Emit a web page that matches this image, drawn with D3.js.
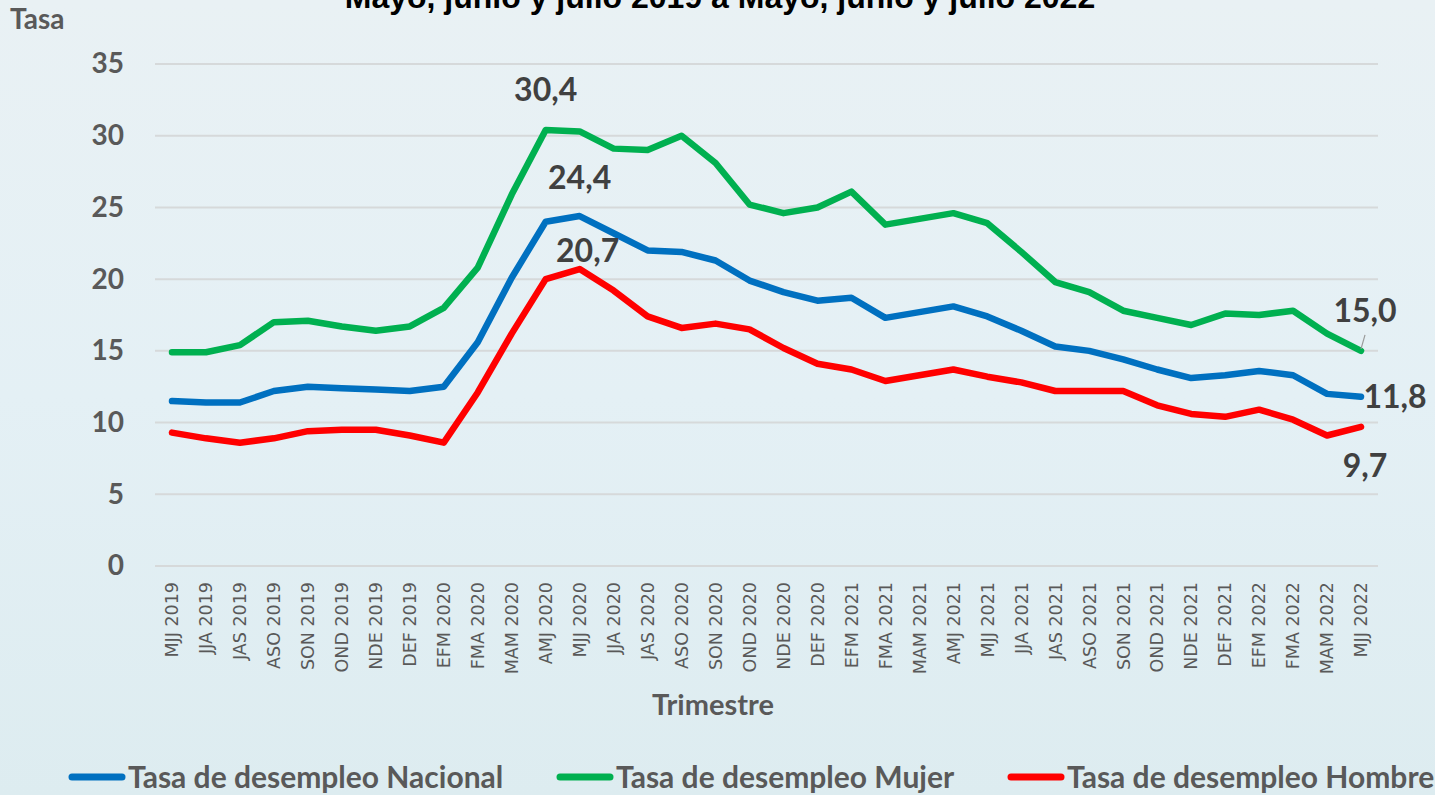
<!DOCTYPE html>
<meta charset="utf-8">
<script src="https://d3js.org/d3.v7.min.js"></script>
<style>
  body { margin: 0; }
  text { font-family: Lato, "Open Sans", sans-serif; }
  .xlab { font-family: "DejaVu Sans", sans-serif; font-size: 17.5px; }
</style>
<body>
<div id="my_visual"></div>
<script>

// Quarters (rolling trimesters)
var trimestres = ["MJJ 2019","JJA 2019","JAS 2019","ASO 2019","SON 2019","OND 2019","NDE 2019","DEF 2019",
  "EFM 2020","FMA 2020","MAM 2020","AMJ 2020","MJJ 2020","JJA 2020","JAS 2020","ASO 2020","SON 2020","OND 2020","NDE 2020","DEF 2020",
  "EFM 2021","FMA 2021","MAM 2021","AMJ 2021","MJJ 2021","JJA 2021","JAS 2021","ASO 2021","SON 2021","OND 2021","NDE 2021","DEF 2021",
  "EFM 2022","FMA 2022","MAM 2022","MJJ 2022"];

var nacional = [11.5,11.4,11.4,12.2,12.5,12.4,12.3,12.2,12.5,15.6,20.1,24.0,24.4,23.2,22.0,21.9,21.3,19.9,19.1,18.5,
  18.7,17.3,17.7,18.1,17.4,16.4,15.3,15.0,14.4,13.7,13.1,13.3,13.6,13.3,12.0,11.8];
var mujer = [14.9,14.9,15.4,17.0,17.1,16.7,16.4,16.7,18.0,20.8,25.9,30.4,30.3,29.1,29.0,30.0,28.1,25.2,24.6,25.0,
  26.1,23.8,24.2,24.6,23.9,21.9,19.8,19.1,17.8,17.3,16.8,17.6,17.5,17.8,16.2,15.0];
var hombre = [9.3,8.9,8.6,8.9,9.4,9.5,9.5,9.1,8.6,12.1,16.2,20.0,20.7,19.2,17.4,16.6,16.9,16.5,15.2,14.1,
  13.7,12.9,13.3,13.7,13.2,12.8,12.2,12.2,12.2,11.2,10.6,10.4,10.9,10.2,9.1,9.7];

var yTicks = [0,5,10,15,20,25,30,35];
var series = [
  {name: "Tasa de desempleo Nacional", values: nacional, color: "#0070C0"},
  {name: "Tasa de desempleo Mujer", values: mujer, color: "#00B050"},
  {name: "Tasa de desempleo Hombre", values: hombre, color: "#FF0000"}
];

var W = 1435, H = 795;
var margin = {top: 64, right: 57, bottom: 229, left: 155},
    width = W - margin.left - margin.right,
    height = H - margin.top - margin.bottom;

var root = d3.select("#my_visual").append("svg")
    .attr("width", W)
    .attr("height", H);

// background gradient
var grad = root.append("defs").append("linearGradient")
    .attr("id", "bg").attr("x1", 0).attr("y1", 0).attr("x2", 0).attr("y2", 1);
grad.append("stop").attr("offset", "0%").attr("stop-color", "#e9f1f4");
grad.append("stop").attr("offset", "50%").attr("stop-color", "#e4f0f5");
grad.append("stop").attr("offset", "100%").attr("stop-color", "#ddecf0");
root.append("rect").attr("width", W).attr("height", H).attr("fill", "url(#bg)");

// title (cut at top like the original)
root.append("text")
    .attr("x", 720).attr("y", 8)
    .attr("text-anchor", "middle")
    .style("font-family", "'Liberation Sans', Arial, sans-serif")
    .style("font-weight", "bold")
    .style("font-size", "32px")
    .attr("fill", "#000")
    .text("Mayo, junio y julio 2019 a Mayo, junio y julio 2022");

root.append("text")
    .attr("x", 10).attr("y", 29)
    .style("font-weight", "bold").style("font-size", "28px")
    .attr("fill", "#595959")
    .text("Tasa");

var svg = root.append("g")
    .attr("transform", "translate(" + margin.left + "," + margin.top + ")");

var x = d3.scaleBand()
    .domain(trimestres)
    .range([0, width]);

var y = d3.scaleLinear()
    .domain([0, 35])
    .range([height, 0]);

// gridlines
svg.append("g")
  .selectAll("line")
  .data(yTicks)
  .enter()
  .append("line")
    .attr("x1", 0).attr("x2", width)
    .attr("y1", function(d) { return y(d); })
    .attr("y2", function(d) { return y(d); })
    .attr("stroke", "#d6d9da")
    .attr("stroke-width", 2);

// Y axis
var yAxis = svg.append("g")
    .call(d3.axisLeft(y).tickValues(yTicks).tickSize(0).tickPadding(31));
yAxis.select(".domain").remove();
yAxis.selectAll("text")
    .style("font-family", "Lato, sans-serif")
    .style("font-weight", "bold")
    .style("font-size", "28px")
    .attr("fill", "#595959");

// X axis
var xAxis = svg.append("g")
    .attr("transform", "translate(0," + height + ")")
    .call(d3.axisBottom(x).tickSize(0));
xAxis.select(".domain").remove();
xAxis.attr("font-family", null).attr("font-size", null);
xAxis.selectAll("text")
    .attr("class", "xlab")
    .attr("transform", "rotate(-90)")
    .attr("text-anchor", "end")
    .attr("x", -16)
    .attr("y", 0)
    .attr("dy", "0.36em")
    .attr("fill", "#595959");

root.append("text")
    .attr("x", 713).attr("y", 715)
    .attr("text-anchor", "middle")
    .style("font-weight", "bold").style("font-size", "29px")
    .attr("fill", "#595959")
    .text("Trimestre");

// lines
var line = d3.line()
    .x(function(d, i) { return x(trimestres[i]) + x.bandwidth() / 2; })
    .y(function(d) { return y(d); });

svg.selectAll(".serie")
  .data([series[1], series[0], series[2]])
  .enter()
  .append("path")
    .attr("class", "serie")
    .attr("d", function(d) { return line(d.values); })
    .attr("fill", "none")
    .attr("stroke", function(d) { return d.color; })
    .attr("stroke-width", 6.5)
    .attr("stroke-linejoin", "round")
    .attr("stroke-linecap", "round");

// data labels
function px(i) { return x(trimestres[i]) + x.bandwidth() / 2; }
var last = trimestres.length - 1;
var labels = [
  {i: 11, v: mujer[11], dx: 0, dy: -29},
  {i: 12, v: nacional[12], dx: 0, dy: -27},
  {i: 12, v: hombre[12], dx: 8, dy: -7},
  {i: last, v: mujer[last], dx: 4, dy: -29},
  {i: last, v: nacional[last], dx: 34, dy: 11},
  {i: last, v: hombre[last], dx: 4, dy: 50}
];
svg.selectAll(".lbl")
  .data(labels)
  .enter()
  .append("text")
    .attr("class", "lbl")
    .attr("x", function(d) { return px(d.i) + d.dx; })
    .attr("y", function(d) { return y(d.v) + d.dy; })
    .attr("text-anchor", "middle")
    .style("font-weight", "bold").style("font-size", "32px")
    .attr("fill", "#404040")
    .text(function(d) { return d3.format(".1f")(d.v).replace(".", ","); });

// leader line for the 15,0 label
svg.append("line")
    .attr("x1", px(last)).attr("y1", y(mujer[last]) - 2)
    .attr("x2", px(last) + 4).attr("y2", y(mujer[last]) - 16)
    .attr("stroke", "#9a9a9a").attr("stroke-width", 1.2);

// legend
var legX = [68, 556, 1007];
var leg = root.selectAll(".leg")
  .data(series)
  .enter()
  .append("g")
    .attr("transform", function(d, i) { return "translate(" + legX[i] + ",777)"; });
leg.append("line")
    .attr("x1", 4).attr("x2", 54)
    .attr("stroke", function(d) { return d.color; })
    .attr("stroke-width", 7)
    .attr("stroke-linecap", "round");
leg.append("text")
    .attr("x", 60).attr("y", 11)
    .style("font-weight", "bold").style("font-size", "30px")
    .attr("fill", "#595959")
    .text(function(d) { return d.name; });

</script>
</body>
